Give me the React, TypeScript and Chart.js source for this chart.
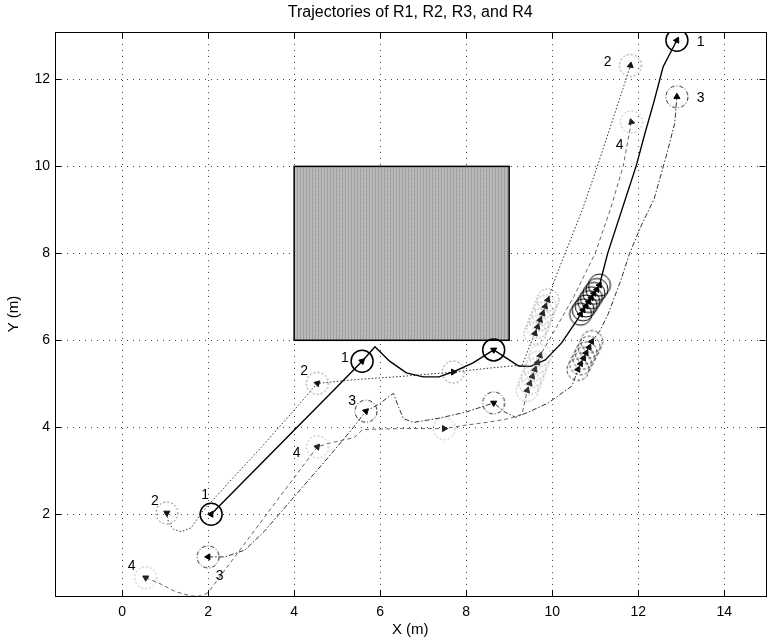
import React, { useEffect, useRef } from 'react';
import { Chart, registerables } from 'chart.js';

Chart.register(...registerables);

const FONT = '"Liberation Sans", Arial, Helvetica, sans-serif';

// axes
const xRange = [-1.56, 14.96];
const yRange = [0.12, 13.09];
const xTicks = [0, 2, 4, 6, 8, 10, 12, 14];
const yTicks = [2, 4, 6, 8, 10, 12];
const titleText = 'Trajectories of R1, R2, R3, and R4';

// obstacle (x0,x1) (y0,y1)
const obstacleX = [4, 9];
const obstacleY = [6, 10];

// R1 trajectory (solid)
const r1X = [2.07, 3.0, 4.0, 5.0, 5.58, 5.88, 6.22, 6.61, 7.0, 7.37, 7.76, 8.16, 8.64, 8.92, 9.22, 9.5, 9.84, 10.22, 10.57, 10.66, 11.1, 11.29, 11.62, 11.95, 12.16, 12.37, 12.58, 12.9];
const r1Y = [2.0, 2.93, 3.93, 4.93, 5.52, 5.85, 5.52, 5.25, 5.16, 5.16, 5.3, 5.48, 5.78, 5.6, 5.41, 5.4, 5.55, 5.94, 6.45, 6.6, 7.27, 8.0, 9.0, 10.0, 10.77, 11.5, 12.29, 12.9];
// R2 trajectory (dotted)
const r2X = [1.04, 1.08, 1.2, 1.38, 1.61, 1.84, 2.5, 3.2, 3.9, 4.54, 5.46, 6.5, 7.7, 8.53, 9.3, 9.45, 9.6, 9.9, 10.1, 10.3, 10.7, 11.05, 11.35, 11.65, 11.82];
const r2Y = [2.03, 1.8, 1.65, 1.6, 1.69, 2.03, 2.75, 3.5, 4.28, 5.01, 5.1, 5.17, 5.27, 5.36, 5.43, 5.8, 6.16, 6.93, 7.5, 8.0, 9.0, 10.0, 10.9, 11.8, 12.32];
// R3 trajectory (dash-dot)
const r3X = [2.0, 2.4, 2.86, 3.3, 4.0, 4.7, 5.3, 5.67, 6.0, 6.22, 6.31, 6.43, 6.54, 6.77, 7.37, 8.0, 8.64, 8.9, 9.15, 9.45, 9.91, 10.46, 10.6, 10.92, 11.1, 11.3, 11.6, 11.8, 12.1, 12.37, 12.67, 12.85, 12.9];
const r3Y = [1.02, 1.02, 1.18, 1.6, 2.4, 3.2, 3.9, 4.37, 4.55, 4.72, 4.78, 4.46, 4.2, 4.11, 4.21, 4.35, 4.56, 4.35, 4.23, 4.35, 4.56, 4.95, 5.33, 5.97, 6.2, 6.6, 7.39, 8.0, 8.7, 9.25, 10.3, 11.0, 11.6];
// R4 trajectory (dashed)
const r4X = [0.55, 0.85, 1.24, 1.6, 1.85, 2.0, 3.27, 4.54, 4.84, 5.39, 5.6, 6.5, 7.49, 8.0, 8.53, 9.0, 9.3, 9.42, 9.72, 10.1, 10.5, 10.8, 11.0, 11.35, 11.65, 11.84];
const r4Y = [0.54, 0.42, 0.22, 0.12, 0.12, 0.2, 1.88, 3.55, 3.64, 3.76, 3.95, 3.97, 3.97, 4.05, 4.12, 4.2, 4.3, 4.85, 5.65, 6.3, 7.0, 7.6, 8.0, 9.0, 10.0, 11.02];

// robot snapshots (start, two intermediate, end) and headings (deg, clockwise from up)
const r1SnapX = [2.07, 5.58, 8.64, 12.9];
const r1SnapY = [2.0, 5.52, 5.78, 12.9];
const r1SnapRot = [270, 45, 58, 28];
const r2SnapX = [1.04, 4.54, 7.7, 11.82];
const r2SnapY = [2.03, 5.01, 5.27, 12.32];
const r2SnapRot = [300, 45, 90, 10];
const r3SnapX = [2.0, 5.67, 8.64, 12.9];
const r3SnapY = [1.02, 4.37, 4.56, 11.6];
const r3SnapRot = [270, 45, 60, 0];
const r4SnapX = [0.55, 4.54, 7.49, 11.84];
const r4SnapY = [0.54, 3.55, 3.97, 11.02];
const r4SnapRot = [300, 40, 90, 345];

// clustered snapshots (robots waiting)
const r1ClusterX = [10.66, 10.72, 10.79, 10.85, 10.91, 10.97, 11.04, 11.1];
const r1ClusterY = [6.6, 6.7, 6.79, 6.89, 6.98, 7.08, 7.17, 7.27];
const r2ClusterX = [9.6, 9.66, 9.72, 9.78, 9.84, 9.9];
const r2ClusterY = [6.16, 6.31, 6.47, 6.62, 6.78, 6.93];
const r3ClusterX = [10.6, 10.66, 10.73, 10.79, 10.86, 10.92];
const r3ClusterY = [5.33, 5.46, 5.59, 5.71, 5.84, 5.97];
const r4ClusterX = [9.42, 9.48, 9.54, 9.6, 9.66, 9.72];
const r4ClusterY = [4.85, 5.01, 5.17, 5.33, 5.49, 5.65];

// robot number labels
const labelText = ['1', '2', '3', '4', '1', '2', '3', '4', '1', '2', '3', '4'];
const labelX = [1.93, 0.76, 2.27, 0.22, 5.18, 4.23, 5.35, 4.06, 13.45, 11.29, 13.45, 11.57];
const labelY = [2.44, 2.3, 0.58, 0.81, 5.6, 5.3, 4.59, 3.41, 12.86, 12.4, 11.56, 10.49];

const zip = (xs: number[], ys: number[]) => xs.map((x, i) => ({ x, y: ys[i] }));

function ring(color: string, width: number, dash: number[], r: number) {
  const c = document.createElement('canvas');
  const s = Math.ceil(2 * r + 4);
  c.width = s;
  c.height = s;
  const g = c.getContext('2d')!;
  g.strokeStyle = color;
  g.lineWidth = width;
  g.setLineDash(dash);
  g.beginPath();
  g.arc(s / 2, s / 2, r, 0, Math.PI * 2);
  g.stroke();
  return c;
}

export default function App() {
  const ref = useRef<HTMLCanvasElement | null>(null);

  useEffect(() => {
    const canvas = ref.current;
    if (!canvas) return;

    const R = 11;
    const ringR2 = ring('#555', 1, [1.5, 2.5], R);
    const ringR3 = ring('#222', 1, [4, 2, 1, 2], R);
    const ringR4 = ring('#999', 1, [1.5, 2.5], R);
    const ringR1c = ring('#000', 1, [], R);
    const ringR2c = ring('#888', 1, [1.5, 2], R);
    const ringR3c = ring('#333', 1, [3, 2], R);
    const ringR4c = ring('#999', 1, [1.5, 2], R);

    const pc = document.createElement('canvas');
    pc.width = 3;
    pc.height = 4;
    const pg = pc.getContext('2d')!;
    pg.fillStyle = '#bebebe';
    pg.fillRect(0, 0, 3, 4);
    pg.fillStyle = '#9e9e9e';
    pg.fillRect(0, 0, 1, 4);
    pg.fillStyle = '#adadad';
    pg.fillRect(2, 1, 1, 1);
    pg.fillRect(1, 3, 1, 1);

    const line = (xs: number[], ys: number[], color: string, width: number, dash: number[]) => ({
      data: zip(xs, ys),
      showLine: true,
      borderColor: color,
      borderWidth: width,
      borderDash: dash,
      pointRadius: 0,
      fill: false,
      tension: 0,
      order: 3,
    });
    const rings = (xs: number[], ys: number[], style: any) => ({
      data: zip(xs, ys),
      showLine: false,
      pointStyle: style,
      pointRadius: R,
      pointBorderWidth: 1,
      pointBackgroundColor: 'transparent',
      pointBorderColor: '#000',
      order: 2,
    });
    const tris = (xs: number[], ys: number[], rot: number[] | number, color: string) => ({
      data: zip(xs, ys),
      showLine: false,
      pointStyle: 'triangle',
      pointRadius: 3.5,
      pointRotation: rot,
      pointBorderWidth: 1,
      pointBackgroundColor: color,
      pointBorderColor: color,
      order: 1,
    });

    const obstaclePlugin = {
      id: 'obstacle',
      beforeDatasetsDraw(chart: any) {
        const { ctx, scales } = chart;
        const x0 = scales.x.getPixelForValue(obstacleX[0]);
        const x1 = scales.x.getPixelForValue(obstacleX[1]);
        const y0 = scales.y.getPixelForValue(obstacleY[0]);
        const y1 = scales.y.getPixelForValue(obstacleY[1]);
        ctx.save();
        ctx.fillStyle = ctx.createPattern(pc, 'repeat');
        ctx.fillRect(x0, y1, x1 - x0, y0 - y1);
        ctx.strokeStyle = '#000';
        ctx.lineWidth = 1.5;
        ctx.strokeRect(x0, y1, x1 - x0, y0 - y1);
        ctx.restore();
      },
    };

    const framePlugin = {
      id: 'frame',
      afterDraw(chart: any) {
        const { ctx, chartArea: a, scales } = chart;
        ctx.save();
        ctx.strokeStyle = '#000';
        ctx.lineWidth = 1;
        ctx.strokeRect(Math.round(a.left) + 0.5, Math.round(a.top) + 0.5, Math.round(a.right - a.left), Math.round(a.bottom - a.top));
        const tl = 6;
        ctx.beginPath();
        xTicks.forEach((v) => {
          const p = Math.round(scales.x.getPixelForValue(v)) + 0.5;
          ctx.moveTo(p, a.bottom);
          ctx.lineTo(p, a.bottom - tl);
          ctx.moveTo(p, a.top);
          ctx.lineTo(p, a.top + tl);
        });
        yTicks.forEach((v) => {
          const p = Math.round(scales.y.getPixelForValue(v)) + 0.5;
          ctx.moveTo(a.left, p);
          ctx.lineTo(a.left + tl, p);
          ctx.moveTo(a.right, p);
          ctx.lineTo(a.right - tl, p);
        });
        ctx.stroke();
        // title centred over the axes
        ctx.fillStyle = '#000';
        ctx.font = `16px ${FONT}`;
        ctx.textAlign = 'center';
        ctx.textBaseline = 'middle';
        ctx.fillText(titleText, (a.left + a.right) / 2, 13);
        ctx.restore();
      },
    };

    const labelPlugin = {
      id: 'robotLabels',
      afterDatasetsDraw(chart: any) {
        const { ctx, scales } = chart;
        ctx.save();
        ctx.fillStyle = '#000';
        ctx.font = `14px ${FONT}`;
        ctx.textAlign = 'center';
        ctx.textBaseline = 'middle';
        labelText.forEach((t, i) => {
          ctx.fillText(t, scales.x.getPixelForValue(labelX[i]), scales.y.getPixelForValue(labelY[i]));
        });
        ctx.restore();
      },
    };

    const chart = new Chart(canvas, {
      type: 'scatter',
      data: {
        datasets: [
          tris(r1SnapX, r1SnapY, r1SnapRot, '#000'),
          tris(r2SnapX, r2SnapY, r2SnapRot, '#111'),
          tris(r3SnapX, r3SnapY, r3SnapRot, '#000'),
          tris(r4SnapX, r4SnapY, r4SnapRot, '#222'),
          tris(r1ClusterX, r1ClusterY, 28, '#000'),
          tris(r2ClusterX, r2ClusterY, 20, '#222'),
          tris(r3ClusterX, r3ClusterY, 26, '#111'),
          tris(r4ClusterX, r4ClusterY, 20, '#333'),
          { ...rings(r1SnapX, r1SnapY, 'circle'), pointBorderWidth: 1.5 },
          rings(r2SnapX, r2SnapY, ringR2),
          rings(r3SnapX, r3SnapY, ringR3),
          rings(r4SnapX, r4SnapY, ringR4),
          rings(r1ClusterX, r1ClusterY, ringR1c),
          rings(r2ClusterX, r2ClusterY, ringR2c),
          rings(r3ClusterX, r3ClusterY, ringR3c),
          rings(r4ClusterX, r4ClusterY, ringR4c),
          line(r1X, r1Y, '#000', 1.4, []),
          line(r2X, r2Y, '#333', 1, [1.5, 2]),
          line(r3X, r3Y, '#333', 1, [5, 2, 1.5, 2]),
          line(r4X, r4Y, '#666', 1, [4, 3]),
        ] as any,
      },
      options: {
        responsive: false,
        animation: false,
        devicePixelRatio: 1,
        events: [],
        layout: { padding: { left: 0, right: 5, top: 32, bottom: 0 } },
        plugins: {
          legend: { display: false },
          tooltip: { enabled: false },
          title: { display: false },
        },
        scales: {
          x: {
            type: 'linear',
            min: xRange[0],
            max: xRange[1],
            afterBuildTicks: (s: any) => {
              s.ticks = xTicks.map((v) => ({ value: v }));
            },
            afterFit: (s: any) => {
              s.height = 47;
              s.paddingLeft = 0;
              s.paddingRight = 0;
            },
            grid: { color: '#444', lineWidth: 1, drawTicks: false },
            border: { display: false, dash: [1, 5] },
            ticks: { color: '#000', font: { family: FONT, size: 14 }, padding: 8, maxRotation: 0, autoSkip: false },
            title: {
              display: true,
              text: 'X (m)',
              color: '#000',
              font: { family: FONT, size: 15 },
              padding: { top: 0, bottom: 4 },
            },
          },
          y: {
            type: 'linear',
            min: yRange[0],
            max: yRange[1],
            afterBuildTicks: (s: any) => {
              s.ticks = yTicks.map((v) => ({ value: v }));
            },
            afterFit: (s: any) => {
              s.width = 55;
              s.paddingTop = 0;
              s.paddingBottom = 0;
            },
            grid: { color: '#444', lineWidth: 1, drawTicks: false },
            border: { display: false, dash: [1, 5] },
            ticks: { color: '#000', font: { family: FONT, size: 14 }, padding: 5, autoSkip: false },
            title: {
              display: true,
              text: 'Y (m)',
              color: '#000',
              font: { family: FONT, size: 15 },
              padding: { top: 5, bottom: 0 },
            },
          },
        },
      } as any,
      plugins: [obstaclePlugin, labelPlugin, framePlugin],
    });

    return () => chart.destroy();
  }, []);

  return (
    <div style={{ position: 'fixed', left: 0, top: 0, width: 778, height: 643, background: '#fff' }}>
      <canvas ref={ref} width={778} height={643} style={{ display: 'block' }} />
    </div>
  );
}
